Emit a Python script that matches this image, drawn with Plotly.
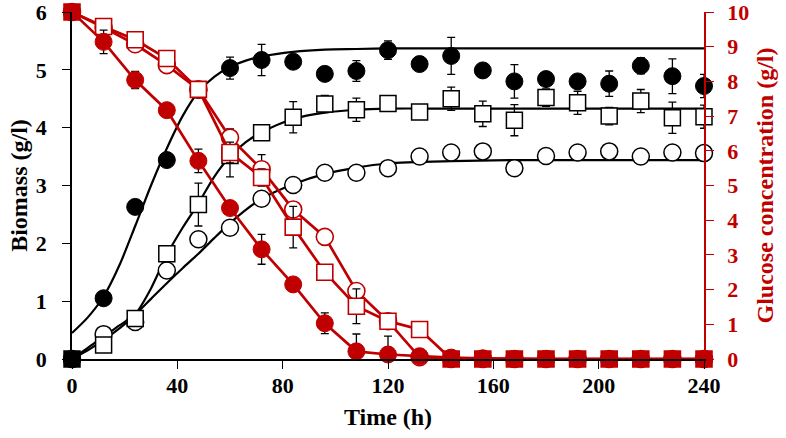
import plotly.graph_objects as go

# ---------------- data ----------------
time_h = [0, 12, 24, 36, 48, 60, 72, 84, 96, 108, 120, 132, 144, 156, 168, 180, 192, 204, 216, 228, 240]

# Biomass (g/l)
biomass_filled = [0, 1.05, 2.63, 3.44, 4.65, 5.03, 5.17, 5.14, 4.93, 4.98, 5.34, 5.10, 5.24, 4.99, 4.80, 4.84, 4.80, 4.76, 5.07, 4.89, 4.72]
biomass_filled_err = [0, 0.05, 0.05, 0.05, 0.10, 0.19, 0.27, 0.05, 0.05, 0.18, 0.16, 0.05, 0.32, 0.05, 0.29, 0.05, 0.05, 0.22, 0.14, 0.30, 0.20]
biomass_square = [0, 0.24, 0.70, 1.82, 2.67, 3.52, 3.91, 4.18, 4.41, 4.31, 4.42, 4.27, 4.50, 4.24, 4.13, 4.52, 4.43, 4.20, 4.46, 4.17, 4.19]
biomass_square_err = [0, 0.10, 0.08, 0.10, 0.37, 0.37, 0.08, 0.27, 0.15, 0.20, 0.05, 0.12, 0.20, 0.22, 0.27, 0.15, 0.20, 0.15, 0.20, 0.27, 0.20]
biomass_circle = [0, 0.43, 0.64, 1.53, 2.07, 2.27, 2.77, 3.01, 3.22, 3.22, 3.30, 3.50, 3.57, 3.59, 3.30, 3.51, 3.57, 3.59, 3.50, 3.57, 3.56]
biomass_circle_err = [0, 0.06, 0.06, 0.06, 0.05, 0.05, 0.05, 0.05, 0.05, 0.05, 0.05, 0.05, 0.05, 0.05, 0.05, 0.05, 0.05, 0.05, 0.05, 0.05, 0.05]

# Fitted growth curves
fit_time = [0, 6, 12, 18, 24, 30, 36, 42, 48, 54, 60, 66, 72, 84, 96, 108, 120, 144, 168, 240]
fit_filled = [0.45, 0.72, 1.08, 1.62, 2.30, 3.00, 3.64, 4.20, 4.62, 4.88, 5.05, 5.16, 5.23, 5.31, 5.35, 5.36, 5.37, 5.37, 5.37, 5.37]
fit_square = [0.0, 0.15, 0.33, 0.53, 0.77, 1.22, 1.80, 2.27, 2.69, 3.15, 3.50, 3.75, 3.92, 4.15, 4.26, 4.31, 4.33, 4.33, 4.33, 4.33]
fit_circle = [0.0, 0.19, 0.39, 0.58, 0.77, 1.04, 1.31, 1.57, 1.82, 2.09, 2.35, 2.58, 2.77, 3.02, 3.20, 3.31, 3.38, 3.42, 3.44, 3.44]

# Glucose (g/l)
glucose_filled = [10, 9.14, 8.04, 7.17, 5.71, 4.35, 3.16, 2.15, 1.03, 0.22, 0.13, 0.08, 0.04, 0.02, 0, 0, 0, 0, 0, 0, 0]
glucose_filled_err = [0, 0.34, 0.25, 0.05, 0.34, 0.05, 0.43, 0.05, 0.30, 0.50, 0.53, 0.05, 0.05, 0.15, 0, 0, 0, 0, 0, 0, 0]
glucose_circle = [10, 9.55, 9.07, 8.47, 7.77, 6.38, 5.47, 4.31, 3.52, 1.96, 1.09, 0.05, 0, 0, 0, 0, 0, 0, 0, 0, 0]
glucose_circle_err = [0, 0.15, 0.15, 0.15, 0.10, 0.25, 0.42, 0.15, 0.10, 0.20, 0.15, 0, 0, 0, 0, 0, 0, 0, 0, 0, 0]
glucose_square = [10, 9.58, 9.20, 8.66, 7.77, 5.95, 5.23, 3.80, 2.50, 1.52, 1.09, 0.85, 0, 0, 0, 0, 0, 0, 0, 0, 0]
glucose_square_err = [0, 0.17, 0.20, 0.20, 0.10, 0.30, 0.25, 0.60, 0.12, 0.50, 0.15, 0.10, 0, 0, 0, 0, 0, 0, 0, 0, 0]

x_ticks = [0, 40, 80, 120, 160, 200, 240]
left_ticks = [0, 1, 2, 3, 4, 5, 6]
right_ticks = [0, 1, 2, 3, 4, 5, 6, 7, 8, 9, 10]

# ---------------- styling ----------------
RED = '#c00000'
FONT = 'Liberation Serif'
MS = 17

fig = go.Figure()


def err_y(arr):
    return dict(type='data', array=arr, visible=True, color='black', thickness=1.3, width=4)


def small_x(mask):
    return dict(type='data', array=[0 if m else 2 for m in mask], visible=True,
                color='black', thickness=1, width=3)


# ---- glucose (right axis) ----
mask_c = [v == 0 or t == 0 for t, v in zip(time_h, glucose_circle)]
fig.add_trace(go.Scatter(
    x=time_h, y=glucose_circle, yaxis='y2', mode='lines+markers', cliponaxis=False,
    line=dict(color=RED, width=2.7),
    marker=dict(symbol='circle', size=MS, color='white', line=dict(color=RED, width=1.6)),
    error_y=err_y(glucose_circle_err), error_x=small_x(mask_c), showlegend=False))

mask_s = [v == 0 or t == 0 for t, v in zip(time_h, glucose_square)]
fig.add_trace(go.Scatter(
    x=time_h, y=glucose_square, yaxis='y2', mode='lines+markers', cliponaxis=False,
    line=dict(color=RED, width=2.7),
    marker=dict(symbol='square', size=MS - 1,
                color=[RED if m else 'white' for m in mask_s],
                line=dict(color=RED, width=1.6)),
    error_y=err_y(glucose_square_err), error_x=small_x(mask_s), showlegend=False))

fig.add_trace(go.Scatter(
    x=time_h, y=glucose_filled, yaxis='y2', mode='lines+markers', cliponaxis=False,
    line=dict(color=RED, width=2.7),
    marker=dict(symbol='circle', size=MS, color=RED, line=dict(color=RED, width=1)),
    error_y=err_y(glucose_filled_err), showlegend=False))

# ---- biomass fitted curves ----
for fit in (fit_filled, fit_square, fit_circle):
    fig.add_trace(go.Scatter(
        x=fit_time, y=fit, mode='lines', cliponaxis=False,
        line=dict(color='black', width=2.2, shape='spline', smoothing=0.8),
        hoverinfo='skip', showlegend=False))

# ---- biomass markers ----
mask_b = [t == 0 for t in time_h]
fig.add_trace(go.Scatter(
    x=time_h, y=biomass_circle, mode='markers', cliponaxis=False,
    marker=dict(symbol='circle', size=MS, color='white', line=dict(color='black', width=1.5)),
    error_y=err_y(biomass_circle_err), error_x=small_x(mask_b), showlegend=False))

fig.add_trace(go.Scatter(
    x=time_h, y=biomass_square, mode='markers', cliponaxis=False,
    marker=dict(symbol='square', size=MS - 1,
                color=['black' if m else 'white' for m in mask_b],
                line=dict(color='black', width=1.5)),
    error_y=err_y(biomass_square_err), error_x=small_x(mask_b), showlegend=False))

fig.add_trace(go.Scatter(
    x=time_h, y=biomass_filled, mode='markers', cliponaxis=False,
    marker=dict(symbol='circle', size=MS, color='black', line=dict(color='black', width=1)),
    error_y=err_y(biomass_filled_err), showlegend=False))

tick_font = dict(family=FONT, size=22, color='black', weight='bold')
title_font = dict(family=FONT, size=24, color='black', weight='bold')

fig.update_layout(
    width=786, height=438,
    margin=dict(l=72, r=82, t=12, b=79, autoexpand=False),
    paper_bgcolor='white', plot_bgcolor='white',
    xaxis=dict(range=[0, 240], tickvals=x_ticks, ticks='outside', ticklen=8, tickwidth=1.2,
               tickcolor='black', showline=True, linecolor='black', linewidth=1.5,
               showgrid=False, zeroline=False, tickfont=tick_font, ticklabelstandoff=-2,
               ticklabeloverflow='allow', automargin=False,
               title=dict(text='Time (h)', font=title_font, standoff=11)),
    yaxis=dict(range=[0, 6], tickvals=left_ticks, ticks='outside', ticklen=8, tickwidth=1.2,
               tickcolor='black', showline=True, linecolor='black', linewidth=1.5,
               showgrid=False, zeroline=False, tickfont=tick_font, ticklabelstandoff=11,
               ticklabeloverflow='allow', automargin=False,
               title=dict(text='Biomass (g/l)', font=title_font, standoff=1)),
    yaxis2=dict(range=[0, 10], tickvals=right_ticks, overlaying='y', side='right', anchor='x',
                ticks='outside', ticklen=8, tickwidth=1.2, tickcolor=RED,
                showline=True, linecolor=RED, linewidth=1.5, showgrid=False, zeroline=False,
                tickfont=dict(family=FONT, size=22, color=RED, weight='bold'), ticklabelstandoff=9,
                ticklabeloverflow='allow', automargin=False,
                title=dict(text='Glucose concentration (g/l)',
                           font=dict(family=FONT, size=24, color=RED, weight='bold'), standoff=8)),
)

fig.write_html('out.html', config={'displayModeBar': False},
               post_script="document.body.style.margin='0px';")
